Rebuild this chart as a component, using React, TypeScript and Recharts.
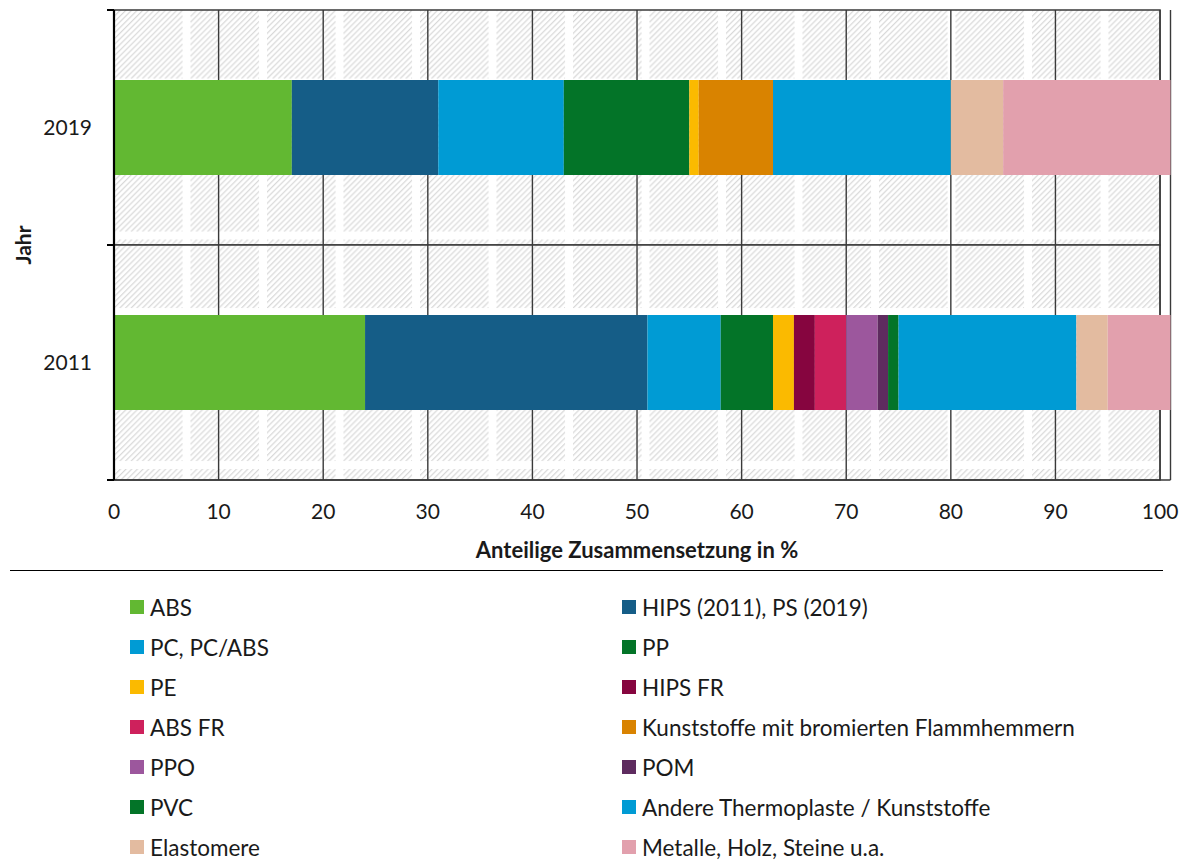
import React from 'react'
import { BarChart, Bar, XAxis, YAxis, CartesianGrid, ReferenceArea, Legend } from 'recharts'

const FONT = 'Lato, "Open Sans", sans-serif'
const TEXT = '#1a1a1a'

// categories (top to bottom)
const YEARS = ['2019', '2011']
const X_TICKS = [0, 10, 20, 30, 40, 50, 60, 70, 80, 90, 100]

// shares in % per year [2019, 2011]
const abs = [17, 24]
const hips = [14, 27]
const pc = [12, 7]
const pp = [12, 5]
const pe = [0.9, 2]
const hipsFr = [0, 2]
const absFr = [0, 3]
const bromiert = [7.1, 0]
const ppo = [0, 3]
const pom = [0, 1]
const pvc = [0, 1]
const andere = [17, 17]
const elastomere = [5, 3]
const metalle = [16, 6]

const SERIES = [
  { key: 'abs', name: 'ABS', color: '#62B832', values: abs },
  { key: 'hips', name: 'HIPS (2011), PS (2019)', color: '#155D87', values: hips },
  { key: 'pc', name: 'PC, PC/ABS', color: '#009BD4', values: pc },
  { key: 'pp', name: 'PP', color: '#037428', values: pp },
  { key: 'pe', name: 'PE', color: '#FBBA00', values: pe },
  { key: 'hipsFr', name: 'HIPS FR', color: '#86053F', values: hipsFr },
  { key: 'absFr', name: 'ABS FR', color: '#CE215C', values: absFr },
  { key: 'bromiert', name: 'Kunststoffe mit bromierten Flammhemmern', color: '#D98300', values: bromiert },
  { key: 'ppo', name: 'PPO', color: '#9C579D', values: ppo },
  { key: 'pom', name: 'POM', color: '#5E2B5F', values: pom },
  { key: 'pvc', name: 'PVC', color: '#037428', values: pvc },
  { key: 'andere', name: 'Andere Thermoplaste / Kunststoffe', color: '#009BD4', values: andere },
  { key: 'elastomere', name: 'Elastomere', color: '#E3BBA0', values: elastomere },
  { key: 'metalle', name: 'Metalle, Holz, Steine u.a.', color: '#E2A0AD', values: metalle },
]

const data = YEARS.map((year, i) => {
  const row: Record<string, any> = { year }
  SERIES.forEach((s) => {
    row[s.key] = s.values[i]
  })
  return row
})

function YearTick(props: any) {
  const { x, y, payload, height, visibleTicksCount } = props
  const half = height && visibleTicksCount ? height / visibleTicksCount / 2 : 117.5
  const axisX = x + 22
  return (
    <g>
      <line x1={axisX - 7} x2={axisX} y1={y - half} y2={y - half} stroke="#000" strokeWidth={2} />
      <line x1={axisX - 7} x2={axisX} y1={y + half} y2={y + half} stroke="#000" strokeWidth={2} />
      <text x={x} y={y} dy="0.36em" textAnchor="end" fontFamily={FONT} fontSize={21} fill={TEXT}>
        {payload.value}
      </text>
    </g>
  )
}

function YLabel(props: any) {
  const vb = props.viewBox || { x: 0, y: 10, height: 470 }
  const cx = vb.x + 22
  const cy = vb.y + vb.height / 2
  return (
    <text
      x={cx}
      y={cy}
      transform={`rotate(-90 ${cx} ${cy})`}
      textAnchor="middle"
      dominantBaseline="central"
      fontFamily={FONT}
      fontWeight="bold"
      fontSize={21}
      fill={TEXT}
    >
      Jahr
    </text>
  )
}

function XLabel(props: any) {
  const vb = props.viewBox || { x: 114, y: 480, width: 1056 }
  // centre under the 0-100 frame, not the overflow strip
  const cx = vb.x + (vb.width * 100) / 101 / 2
  return (
    <text
      x={cx}
      y={vb.y + 69}
      textAnchor="middle"
      dominantBaseline="central"
      fontFamily={FONT}
      fontWeight="bold"
      fontSize={22}
      fill={TEXT}
    >
      Anteilige Zusammensetzung in %
    </text>
  )
}

function LegendGrid(props: any) {
  const order = SERIES.map((s) => s.name)
  const items = [...(props.payload || [])].sort(
    (a: any, b: any) => order.indexOf(a.value) - order.indexOf(b.value)
  )
  return (
    <div style={{ borderTop: '1.5px solid #000', paddingTop: 16, fontFamily: FONT }}>
      <div style={{ display: 'grid', gridTemplateColumns: '492px 1fr', paddingLeft: 120 }}>
        {items.map((it: any) => (
          <div key={it.value} style={{ display: 'flex', alignItems: 'center', height: 40 }}>
            <span style={{ width: 14, height: 14, background: it.color, marginRight: 6, display: 'inline-block' }} />
            <span style={{ fontSize: 22.5, color: TEXT }}>{it.value}</span>
          </div>
        ))}
      </div>
    </div>
  )
}

export default function App() {
  return (
    <div style={{ position: 'absolute', left: 0, top: 0, background: '#fff' }}>
      <BarChart
        width={1185}
        height={862}
        data={data}
        layout="vertical"
        barSize={95}
        margin={{ top: 10, right: 14.5, left: 0, bottom: 302 }}
      >
        <defs>
          <pattern id="hatch" patternUnits="userSpaceOnUse" width={4} height={4} patternTransform="rotate(45)">
            <rect width={4} height={4} fill="#fff" />
            <line x1={0} y1={0} x2={0} y2={4} stroke="#d4d4d4" strokeWidth={2.2} />
          </pattern>
          <pattern id="tile" patternUnits="userSpaceOnUse" x={114} y={10} width={76.5} height={76.5}>
            <rect width={76.5} height={76.5} fill="#fff" />
            <rect width={68.5} height={68.5} fill="url(#hatch)" />
          </pattern>
        </defs>
        {YEARS.map((year) => (
          <ReferenceArea
            key={year}
            x1={0}
            x2={100}
            y1={year}
            y2={year}
            fill="url(#tile)"
            fillOpacity={1}
            stroke="#3a3a3a"
            strokeWidth={1.5}
            zIndex={-200}
            ifOverflow="visible"
          />
        ))}
        <CartesianGrid vertical horizontal={false} stroke="#3a3a3a" strokeWidth={1.4} />
        <XAxis
          type="number"
          domain={[0, 101]}
          ticks={X_TICKS}
          interval={0}
          tickLine={false}
          tickSize={0}
          tickMargin={24}
          axisLine={{ stroke: '#3a3a3a', strokeWidth: 1.5 }}
          height={80}
          tick={{ fontFamily: FONT, fontSize: 21, fill: TEXT }}
          label={{ content: XLabel }}
        />
        <YAxis
          type="category"
          dataKey="year"
          width={114}
          tickLine={false}
          tickSize={0}
          tickMargin={22}
          axisLine={{ stroke: '#000', strokeWidth: 2.2 }}
          tick={<YearTick />}
          label={{ content: YLabel }}
        />
        <Legend
          layout="horizontal"
          verticalAlign="middle"
          align="center"
          content={<LegendGrid />}
          wrapperStyle={{ top: 570, left: 10, width: 1153, height: 292 }}
        />
        {SERIES.map((s) => (
          <Bar
            key={s.key}
            dataKey={s.key}
            name={s.name}
            stackId="share"
            fill={s.color}
            legendType="square"
            isAnimationActive={false}
          />
        ))}
      </BarChart>
    </div>
  )
}
